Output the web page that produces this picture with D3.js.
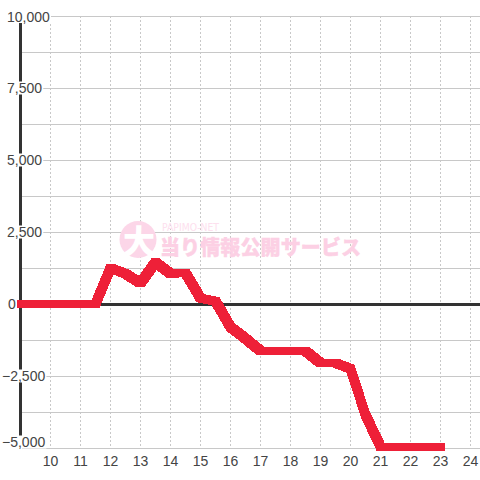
<!DOCTYPE html>
<html><head><meta charset="utf-8">
<script src="https://cdnjs.cloudflare.com/ajax/libs/d3/7.8.5/d3.min.js"></script>
<style>html,body{margin:0;padding:0;background:#fff}svg{display:block}text{font-family:"Liberation Sans",Arial,sans-serif}</style>
</head><body><svg id="c" width="480" height="480"></svg>
<script>
const hours = [9,9.5,10,10.5,11,11.5,12,12.5,13,13.5,14,14.5,15,15.5,16,16.5,17,17.5,18,18.5,19,19.5,20,20.5,21,21.5,22,22.5,23];
const values = [0,0,0,0,0,0,1250,1050,720,1450,1050,1080,200,100,-800,-1200,-1630,-1630,-1630,-1630,-2050,-2050,-2250,-3850,-4950,-4950,-4950,-4950,-4950];
const xTicks = [10,11,12,13,14,15,16,17,18,19,20,21,22,23,24];
const yGrid = [10000,8750,7500,6250,5000,3750,2500,1250,-1250,-2500,-3750,-5000];
const yLabels = [10000,7500,5000,2500,0,-2500,-5000];
const wmTitle = "当り情報公開サービス", wmSub = "PAPIMO-NET", wmMark = "大";

const svg = d3.select("#c");
const x = d3.scaleLinear().domain([9,24]).range([20.5,470.5]);
const y = d3.scaleLinear().domain([-5000,10000]).range([448,16]);
const grid = "#c8c8c8", ink = "#444";

svg.append("g").selectAll("line").data(xTicks).join("line")
  .attr("x1",d=>x(d)).attr("x2",d=>x(d)).attr("y1",y(10000)).attr("y2",y(-5000))
  .attr("stroke",grid).attr("stroke-dasharray","2,2");
svg.append("g").selectAll("line").data(yGrid).join("line")
  .attr("x1",22).attr("x2",480).attr("y1",d=>y(d)+.5).attr("y2",d=>y(d)+.5)
  .attr("stroke",grid);

// watermark
const wm = svg.append("g");
wm.append("circle").attr("cx",138).attr("cy",239.5).attr("r",18.5).attr("fill","#fcd6e8");
wm.append("text").attr("x",139).attr("y",253).attr("text-anchor","middle")
  .style("font-family","'Noto Sans CJK JP'").style("font-weight",900).style("font-size","32px")
  .attr("fill","#fff").text(wmMark);
wm.append("text").attr("x",162).attr("y",230.5).attr("textLength",57).attr("lengthAdjust","spacingAndGlyphs")
  .style("font-family","'DejaVu Sans'").style("font-size","10px").attr("fill","#fde0ee").text(wmSub);
wm.append("text").attr("x",160).attr("y",255).attr("textLength",201)
  .style("font-family","'Noto Sans CJK JP'").style("font-weight",900).style("font-size","20px")
  .attr("fill","#fcd0e4").attr("stroke","#fcd0e4").attr("stroke-width",.4).text(wmTitle);

// axes
svg.append("line").attr("x1",20.5).attr("x2",20.5).attr("y1",y(10000)).attr("y2",y(-5000))
  .attr("stroke","#333").attr("stroke-width",3);
svg.append("line").attr("x1",20).attr("x2",480).attr("y1",y(0)+.5).attr("y2",y(0)+.5)
  .attr("stroke","#333").attr("stroke-width",3);

// series: traced with a square pen, so each segment is the hull of two squares
const pen = 4;
const pts = values.map((v,i)=>[x(hours[i]),y(v)]);
const corners = ([a,b]) => [[a-pen,b-pen],[a+pen,b-pen],[a+pen,b+pen],[a-pen,b+pen]];
svg.append("g").attr("fill","#ee2038").attr("shape-rendering","crispEdges")
  .selectAll("path").data(d3.pairs(pts)).join("path")
  .attr("d",([p,q])=>"M"+d3.polygonHull([...corners(p),...corners(q)]).join("L")+"Z");

// y labels with white backing
const fmt = d3.format(",");
const labelY = v => v===10000 ? y(v)+.5 : v===-5000 ? y(v)-6 : y(v);
const yl = svg.append("g");
yLabels.forEach(v=>{
  const g = yl.append("g");
  const t = g.append("text").attr("x",v<0?2:(v===0?8:7)).attr("y",labelY(v)).attr("dy","0.36em")
    .style("font-size","14px").attr("fill",ink).text(fmt(v));
  const b = t.node().getBBox();
  if (v!==0) g.insert("rect","text").attr("x",b.x).attr("y",labelY(v)-6.5).attr("width",b.width+1).attr("height",13).attr("fill","#fff");
});
svg.append("g").selectAll("text").data(xTicks).join("text")
  .attr("x",d=>x(d)).attr("y",461).attr("dy","0.36em").attr("text-anchor","middle")
  .style("font-size","14px").attr("fill",ink).text(d=>d);
</script></body></html>
